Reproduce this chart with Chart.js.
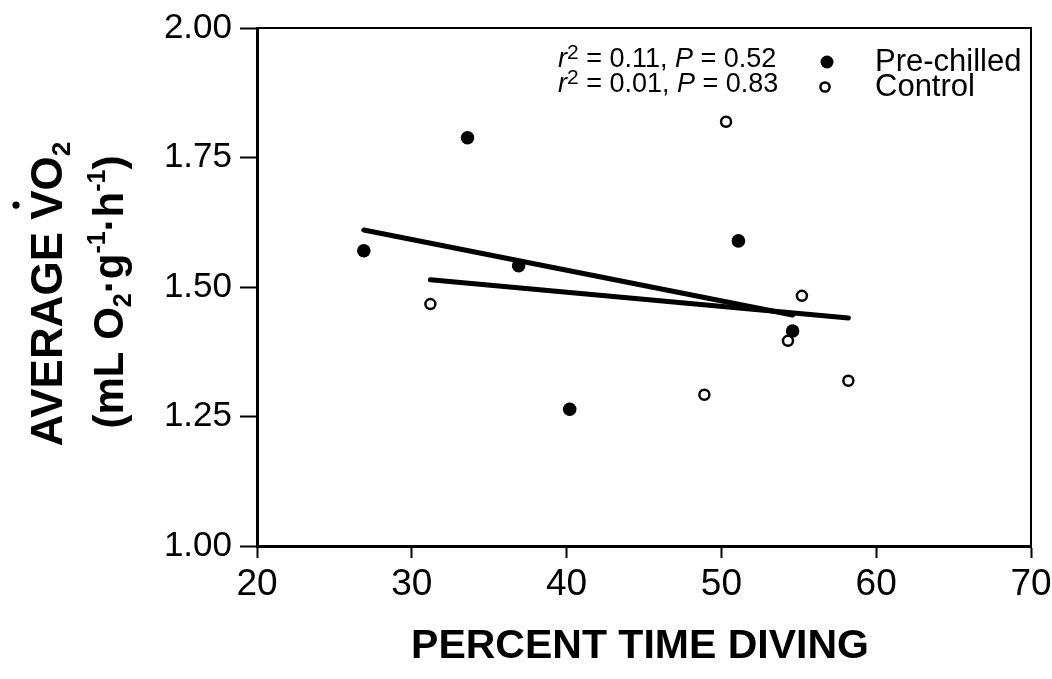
<!DOCTYPE html>
<html>
<head>
<meta charset="utf-8">
<script src="https://cdn.jsdelivr.net/npm/chart.js@4/dist/chart.umd.min.js"></script>
<style>
  html, body { margin: 0; padding: 0; background: #fff; }
  #wrap { width: 1052px; height: 679px; }
</style>
</head>
<body>
<div id="wrap"><canvas id="vo2Chart" width="1052" height="679"></canvas></div>
<script>
// values
const preX = [26.9, 33.6, 36.9, 40.2, 51.1, 54.6];
const preY = [1.570, 1.788, 1.541, 1.264, 1.589, 1.415];
const ctlX = [31.2, 48.9, 50.3, 54.3, 55.2, 58.2];
const ctlY = [1.467, 1.292, 1.819, 1.396, 1.483, 1.319];

// regression lines (end points)
const preFitX = [26.9, 54.6];
const preFitY = [1.610, 1.446];
const ctlFitX = [31.2, 58.2];
const ctlFitY = [1.514, 1.440];

const seriesNames = ["Pre-chilled", "Control"];
const statsR2 = ["0.11", "0.01"];
const statsP = ["0.52", "0.83"];

const xTitle = "PERCENT TIME DIVING";
const FONT = "'Liberation Sans', Arial, Helvetica, sans-serif";

function toPoints(xs, ys) {
  return xs.map((x, i) => ({ x: x, y: ys[i] }));
}

// draws a list of text pieces side by side, centred or left aligned
function drawRich(ctx, parts, x, y, align) {
  let total = 0;
  parts.forEach((p) => {
    ctx.font = `${p.style || "normal"} ${p.weight || "normal"} ${p.size}px ${FONT}`;
    p.w = ctx.measureText(p.t).width;
    total += p.w;
  });
  let cx = align === "center" ? x - total / 2 : x;
  const starts = [];
  parts.forEach((p) => {
    ctx.font = `${p.style || "normal"} ${p.weight || "normal"} ${p.size}px ${FONT}`;
    ctx.fillText(p.t, cx, y + (p.dy || 0));
    starts.push(cx);
    cx += p.w;
  });
  return starts;
}

const titlesPlugin = {
  id: "titles",
  afterDraw(chart) {
    const ctx = chart.ctx;
    const area = chart.chartArea;
    ctx.save();
    ctx.fillStyle = "#000";
    ctx.strokeStyle = "#000";
    ctx.textBaseline = "alphabetic";
    ctx.textAlign = "left";

    // frame top and right
    ctx.lineWidth = 2;
    ctx.beginPath();
    ctx.moveTo(area.left, area.top);
    ctx.lineTo(area.right, area.top);
    ctx.lineTo(area.right, area.bottom);
    ctx.stroke();

    // x title
    drawRich(ctx, [{ t: xTitle, size: 41, weight: "bold" }], 640, 658, "center");

    // y title, line 1
    ctx.save();
    ctx.translate(62, 294);
    ctx.rotate(-Math.PI / 2);
    const p1 = [
      { t: "AVERAGE ", size: 44, weight: "bold" },
      { t: "V", size: 44, weight: "bold" },
      { t: "O", size: 44, weight: "bold" },
      { t: "2", size: 26, weight: "bold", dy: 8 },
    ];
    const s1 = drawRich(ctx, p1, 0, 0, "center");
    ctx.beginPath();
    ctx.arc(s1[1] + p1[1].w / 2, -46, 3.6, 0, Math.PI * 2);
    ctx.fill();
    ctx.restore();

    // y title, line 2
    ctx.save();
    ctx.translate(123, 292);
    ctx.rotate(-Math.PI / 2);
    drawRich(ctx, [
      { t: "(mL O", size: 42, weight: "bold" },
      { t: "2", size: 25, weight: "bold", dy: 8 },
      { t: "\u00B7g", size: 42, weight: "bold" },
      { t: "-1", size: 25, weight: "bold", dy: -18 },
      { t: "\u00B7h", size: 42, weight: "bold" },
      { t: "-1", size: 25, weight: "bold", dy: -18 },
      { t: ")", size: 42, weight: "bold" },
    ], 0, 0, "center");
    ctx.restore();

    // legend with statistics
    const rowY = [67, 92];
    const labY = [71, 96];
    for (let i = 0; i < 2; i++) {
      drawRich(ctx, [
        { t: "r", size: 27, style: "italic" },
        { t: "2", size: 21, dy: -8 },
        { t: " = " + statsR2[i] + ", ", size: 27 },
        { t: "P", size: 27, style: "italic" },
        { t: " = " + statsP[i], size: 27 },
      ], 558, rowY[i], "left");
      drawRich(ctx, [{ t: seriesNames[i], size: 31 }], 875, labY[i], "left");
    }
    ctx.beginPath();
    ctx.arc(827, 62, 6.5, 0, Math.PI * 2);
    ctx.fill();
    ctx.lineWidth = 2.5;
    ctx.beginPath();
    ctx.arc(825, 87, 4.6, 0, Math.PI * 2);
    ctx.fillStyle = "#fff";
    ctx.fill();
    ctx.stroke();

    ctx.restore();
  },
};

const ctx = document.getElementById("vo2Chart");

new Chart(ctx, {
  type: "scatter",
  data: {
    datasets: [
      {
        label: seriesNames[0] + " fit",
        data: toPoints(preFitX, preFitY),
        showLine: true,
        borderColor: "#000",
        borderWidth: 5,
        borderCapStyle: "round",
        pointRadius: 0,
        order: 2,
      },
      {
        label: seriesNames[1] + " fit",
        data: toPoints(ctlFitX, ctlFitY),
        showLine: true,
        borderColor: "#000",
        borderWidth: 5,
        borderCapStyle: "round",
        pointRadius: 0,
        order: 2,
      },
      {
        label: seriesNames[0],
        data: toPoints(preX, preY),
        pointRadius: 6.8,
        pointBackgroundColor: "#000",
        pointBorderColor: "#000",
        pointBorderWidth: 0,
        order: 1,
      },
      {
        label: seriesNames[1],
        data: toPoints(ctlX, ctlY),
        pointRadius: 5,
        pointBackgroundColor: "#fff",
        pointBorderColor: "#000",
        pointBorderWidth: 2.5,
        order: 1,
      },
    ],
  },
  options: {
    responsive: false,
    animation: false,
    devicePixelRatio: 1,
    layout: { padding: { top: 28, right: 21, left: 0, bottom: 0 } },
    plugins: {
      legend: { display: false },
      tooltip: { enabled: false },
    },
    scales: {
      x: {
        type: "linear",
        min: 20,
        max: 70,
        afterFit: (scale) => {
          scale.height = 133;
          scale.paddingLeft = 0;
          scale.paddingRight = 0;
        },
        ticks: {
          stepSize: 10,
          color: "#000",
          padding: 5,
          font: { family: FONT, size: 37 },
        },
        grid: {
          drawOnChartArea: false,
          drawTicks: true,
          tickLength: 12,
          tickColor: "#000",
          tickWidth: 2,
        },
        border: { display: true, color: "#000", width: 3 },
      },
      y: {
        min: 1,
        max: 2,
        afterFit: (scale) => {
          scale.width = 257;
          scale.paddingTop = 0;
          scale.paddingBottom = 0;
        },
        ticks: {
          stepSize: 0.25,
          color: "#000",
          padding: 8,
          font: { family: FONT, size: 35 },
          callback: (v) => v.toFixed(2),
        },
        grid: {
          drawOnChartArea: false,
          drawTicks: true,
          tickLength: 17,
          tickColor: "#000",
          tickWidth: 2,
        },
        border: { display: true, color: "#000", width: 3 },
      },
    },
  },
  plugins: [titlesPlugin],
});
</script>
</body>
</html>
